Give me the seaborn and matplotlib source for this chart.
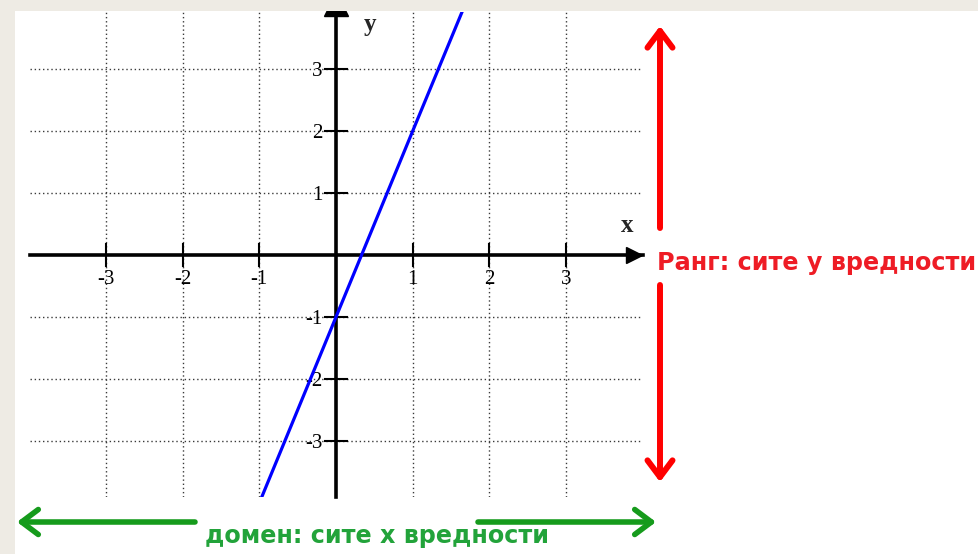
import matplotlib
matplotlib.use("Agg")
import matplotlib.pyplot as plt
import pandas as pd
import seaborn as sns
from matplotlib.patches import Rectangle

# points on the blue line (y = 3x - 1)
line_x = [-1, 0, 1, 1.67]
line_y = [-4, -1, 2, 4]
x_ticks = [-3, -2, -1, 1, 2, 3]
y_ticks = [-3, -2, -1, 1, 2, 3]
range_label = "Ранг: сите y вредности"
domain_label = "домен: сите x вредности"

sns.set_style("white")
plt.rcParams["axes.unicode_minus"] = False

W, H = 979, 554
BEIGE = "#eeebe4"
fig = plt.figure(figsize=(W / 100, H / 100), dpi=100, facecolor=BEIGE)
fig.patches.append(Rectangle((15 / W, 0), 1, (H - 11) / H, transform=fig.transFigure,
                             facecolor="white", edgecolor="none", zorder=-1))

# place the axes so the origin sits where it is in the picture
x0, x1 = -3.99, 4.0
y0, y1 = -3.9, 3.92
ox, oy, ux, uy = 336, 255, 76.7, 62
left, right = ox + x0 * ux, ox + x1 * ux
top, bottom = oy - y1 * uy, oy - y0 * uy
ax = fig.add_axes([left / W, 1 - bottom / H, (right - left) / W, (bottom - top) / H])
ax.patch.set_alpha(0)

df = pd.DataFrame({"x": line_x, "y": line_y})
sns.lineplot(data=df, x="x", y="y", ax=ax, color="blue", lw=2.3, zorder=4)

ax.set_xlim(x0, x1)
ax.set_ylim(y0, y1)
ax.set_xticks(x_ticks)
ax.set_yticks(y_ticks)
ax.set_xlabel("")
ax.set_ylabel("")
ax.grid(True, ls=(0, (1, 2)), color="#3a3a3a", lw=1.0)
ax.set_axisbelow(True)

for s in ["top", "right"]:
    ax.spines[s].set_visible(False)
for s in ["left", "bottom"]:
    ax.spines[s].set_position(("data", 0))
    ax.spines[s].set_linewidth(2.6)
    ax.spines[s].set_color("black")
ax.tick_params(bottom=True, left=True, direction="inout", length=17, width=1.5,
               colors="black", labelsize=15)
ax.tick_params(axis="x", pad=2)
ax.tick_params(axis="y", pad=1)
for lbl in ax.get_xticklabels() + ax.get_yticklabels():
    lbl.set_fontfamily("Liberation Serif")

# arrow heads on the axes
ax.plot([3.88], [0], marker=">", ms=12, color="black", clip_on=False, zorder=5)
ax.plot([0], [4.05], marker="^", ms=17, color="black", clip_on=False, zorder=5)
ax.text(3.79, 0.48, "x", fontsize=18, fontweight="bold", family="Liberation Serif",
        ha="center", va="center")
ax.text(0.44, 3.71, "y", fontsize=18, fontweight="bold", family="Liberation Serif",
        ha="center", va="center")

# overlay in pixel units for the domain / range arrows
ov = fig.add_axes([0, 0, 1, 1])
ov.set_xlim(0, W)
ov.set_ylim(H, 0)
ov.axis("off")
ov.patch.set_alpha(0)
ov.add_patch(Rectangle((0, 0), W, 11, facecolor=BEIGE, edgecolor="none", zorder=10))
ov.add_patch(Rectangle((0, 0), 15, H, facecolor=BEIGE, edgecolor="none", zorder=10))


def arrow(tip, start, color, lw):
    ov.annotate("", xy=tip, xytext=start,
                arrowprops=dict(arrowstyle="->,head_length=0.6,head_width=0.45",
                                color=color, lw=lw, mutation_scale=20,
                                shrinkA=0, shrinkB=0))


RED = "#ff0000"
GREEN = "#169b1c"
arrow((660, 26), (660, 228), RED, 4.3)
arrow((660, 482), (660, 285), RED, 4.3)
arrow((17, 522), (195, 522), GREEN, 4.0)
arrow((656, 522), (478, 522), GREEN, 4.0)

ov.text(657, 263, range_label, color="#ee1c25", fontsize=17.2, fontweight="bold",
        family="DejaVu Sans", ha="left", va="center")
ov.text(377, 536, domain_label, color="#22a33a", fontsize=17.2, fontweight="bold",
        family="DejaVu Sans", ha="center", va="center")

fig.savefig("out.png", dpi=100, facecolor=fig.get_facecolor())
